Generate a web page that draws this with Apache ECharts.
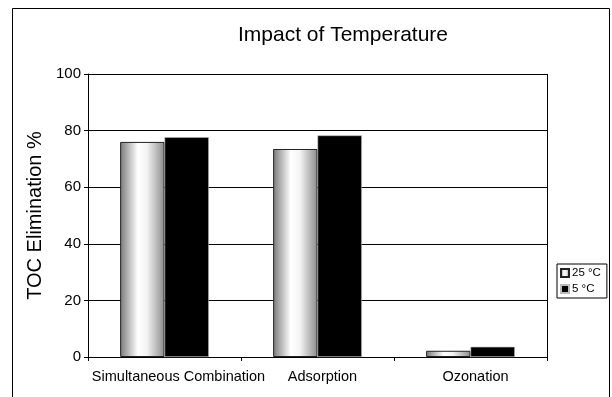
<!DOCTYPE html>
<html>
<head>
<meta charset="utf-8">
<script src="https://cdn.jsdelivr.net/npm/echarts@6/dist/echarts.min.js"></script>
<style>html,body{margin:0;padding:0;background:#fff}#c{width:612px;height:397px}</style>
</head>
<body>
<div id="c"></div>
<script>
const categories = ['Simultaneous Combination', 'Adsorption', 'Ozonation'];
const seriesNames = ['25 °C', '5 °C'];
const temp25 = [76.0, 73.5, 2.2];
const temp5 = [77.7, 78.3, 3.6];
const yTicks = [0, 20, 40, 60, 80, 100];

const chart = echarts.init(document.getElementById('c'), null, {renderer: 'canvas'});
const font = 'Liberation Sans, Arial, sans-serif';
chart.setOption({
  animation: false,
  backgroundColor: '#fff',
  textStyle: {fontFamily: font},
  title: {
    text: 'Impact of Temperature', left: 338, top: 20, textAlign: 'center',
    textStyle: {fontFamily: font, fontSize: 21, fontWeight: 'normal', color: '#000'}
  },
  graphic: [
    {type: 'rect', shape: {x: 12.5, y: 8.5, width: 597, height: 400}, style: {fill: 'none', stroke: '#000', lineWidth: 1}},
    {type: 'line', shape: {x1: 547.5, y1: 74, x2: 547.5, y2: 357}, style: {stroke: '#000', lineWidth: 1}}
  ],
  legend: {
    orient: 'vertical', left: 557, top: 264,
    data: seriesNames,
    itemWidth: 8, itemHeight: 8, itemGap: 4,
    padding: [3, 6, 3, 3],
    borderColor: '#000', borderWidth: 1,
    textStyle: {fontFamily: font, fontSize: 11.5, color: '#000', padding: [0, 0, 0, -2]},
    icon: 'rect'
  },
  grid: {left: 88, right: 65, top: 74, bottom: 40, containLabel: false},
  xAxis: {
    type: 'category', data: categories,
    axisLine: {lineStyle: {color: '#000', width: 1}},
    axisTick: {show: true, length: 4, lineStyle: {color: '#000'}},
    axisLabel: {
      fontFamily: font, fontSize: 14.5, color: '#000', margin: 12, interval: 0,
      formatter: (v, i) => i === 0 ? '{first|' + v + '}' : '{other|' + v + '}',
      rich: {
        first: {fontFamily: font, fontSize: 14.5, color: '#000', padding: [0, 0, 0, 28]},
        other: {fontFamily: font, fontSize: 14.5, color: '#000', padding: [0, 0, 0, 10]}
      }
    }
  },
  yAxis: {
    type: 'value', min: 0, max: 100, interval: 20,
    name: 'TOC Elimination %', nameLocation: 'middle', nameGap: 40,
    nameTextStyle: {fontFamily: font, fontSize: 20, color: '#000'},
    axisLine: {show: true, lineStyle: {color: '#000', width: 1}},
    axisTick: {show: true, length: 4, lineStyle: {color: '#000'}},
    axisLabel: {fontFamily: font, fontSize: 15, color: '#000', margin: 7,
      formatter: v => yTicks.includes(v) ? String(v) : ''},
    splitLine: {show: true, lineStyle: {color: '#000', width: 1}}
  },
  series: [
    {
      name: seriesNames[0], type: 'bar', data: temp25,
      barGap: '0%', barCategoryGap: '42%',
      itemStyle: {
        color: new echarts.graphic.LinearGradient(0, 0, 1, 0, [
          {offset: 0, color: '#7a7a7a'},
          {offset: 0.4, color: '#ffffff'},
          {offset: 0.6, color: '#f4f4f4'},
          {offset: 1, color: '#8c8c8c'}
        ]),
        borderColor: '#222', borderWidth: 1
      }
    },
    {
      name: seriesNames[1], type: 'bar', data: temp5,
      barGap: '0%', barCategoryGap: '42%',
      itemStyle: {color: '#000', borderColor: '#bbb', borderWidth: 0.6}
    }
  ]
});
</script>
</body>
</html>
